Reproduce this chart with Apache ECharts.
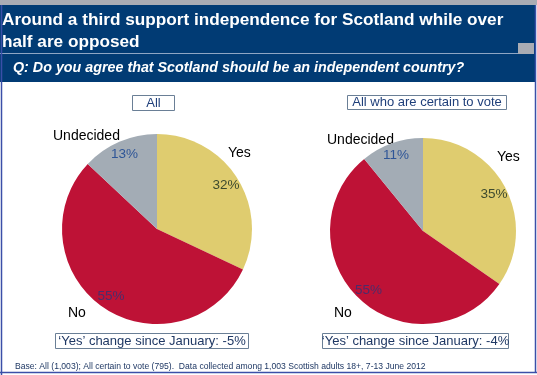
<!DOCTYPE html>
<html><head><meta charset="utf-8">
<script src="https://cdn.jsdelivr.net/npm/echarts@6/dist/echarts.min.js"></script>
<style>html,body{margin:0;padding:0;background:#fff}#c{width:537px;height:375px}</style>
</head><body><div id="c"></div>
<script>
const categories = ['Yes', 'No', 'Undecided'];
const allValues = [32, 55, 13];
const certainValues = [35, 55, 11];
const panelTitles = ['All', 'All who are certain to vote'];
const changeNotes = ["\u2018Yes\u2019 change since January: -5%", "\u2018Yes\u2019 change since January: -4%"];
const title = 'Around a third support independence for Scotland while over\nhalf are opposed';
const question = 'Q: Do you agree that Scotland should be an independent country?';
const footnote = 'Base: All (1,003); All certain to vote (795).  Data collected among 1,003 Scottish adults 18+, 7-13 June 2012';

const sliceColors = ['#dfcc6f', '#be1236', '#a3acb5'];
const pctColors = ['#3d4a2e', '#4b2d6b', '#2e5597'];
const FONT = 'Liberation Sans, Arial, sans-serif';

function mkData(vals) {
  return vals.map((v, i) => ({ name: categories[i], value: v, itemStyle: { color: sliceColors[i] } }));
}
function mkLabelData(vals) {
  return vals.map((v, i) => ({ name: categories[i], value: v,
    label: { color: pctColors[i] } }));
}
const pies = [
  { c: [157, 229], r: 95, vals: allValues },
  { c: [423, 231], r: 93, vals: certainValues }
];
const series = [];
pies.forEach(p => {
  series.push({
    type: 'pie', center: p.c, radius: p.r, startAngle: 90, clockwise: true,
    silent: true, animation: false, label: { show: false }, labelLine: { show: false },
    data: mkData(p.vals)
  });
  series.push({
    type: 'pie', center: p.c, radius: [p.r * 0.66, p.r], startAngle: 90, clockwise: true,
    silent: true, animation: false,
    itemStyle: { color: 'rgba(0,0,0,0)' },
    label: { show: true, position: 'inside', formatter: '{c}%', fontFamily: FONT, fontSize: 13.5 },
    labelLine: { show: false },
    data: mkLabelData(p.vals)
  });
});

const nameTxt = (x, y, t) => ({ type: 'text', left: x, top: y,
  style: { text: t, fill: '#000', font: '14px ' + FONT } });

const graphic = [
  { type: 'rect', shape: { x: 0, y: 0, width: 537, height: 5 }, style: { fill: '#a9acb4' } },
  { type: 'rect', shape: { x: 0, y: 5, width: 535, height: 77 }, style: { fill: '#013b74' } },
  { type: 'line', shape: { x1: 0, y1: 53.5, x2: 518, y2: 53.5 }, style: { stroke: '#8fa6c4', lineWidth: 1 } },
  { type: 'rect', shape: { x: 518, y: 43, width: 16, height: 11 }, style: { fill: '#a9acb4' } },
  { type: 'text', left: 2, top: 9, style: { text: title, fill: '#fff', font: 'bold 17.2px ' + FONT, lineHeight: 22 } },
  { type: 'text', left: 13, top: 61, style: { text: question, fill: '#fff', font: 'italic bold 14.3px ' + FONT } },
  { type: 'line', shape: { x1: 1.5, y1: 5, x2: 1.5, y2: 375 }, style: { stroke: '#3b4fa8', lineWidth: 1.5 } },
  { type: 'line', shape: { x1: 535.5, y1: 5, x2: 535.5, y2: 373 }, style: { stroke: '#3b4fa8', lineWidth: 1.5 } },
  { type: 'line', shape: { x1: 0, y1: 372.5, x2: 537, y2: 372.5 }, style: { stroke: '#3b4fa8', lineWidth: 1.5 } },
  // panel title boxes
  { type: 'rect', shape: { x: 132.5, y: 95.5, width: 42, height: 15 }, style: { fill: '#fff', stroke: '#6a7f96', lineWidth: 1 } },
  { type: 'text', x: 153.5, y: 103, style: { text: panelTitles[0], fill: '#1f3f7a', font: '13px ' + FONT, textAlign: 'center', textVerticalAlign: 'middle' } },
  { type: 'rect', shape: { x: 347.5, y: 95.5, width: 159, height: 14 }, style: { fill: '#fff', stroke: '#6a7f96', lineWidth: 1 } },
  { type: 'text', x: 427, y: 102.5, style: { text: panelTitles[1], fill: '#1f3f7a', font: '13px ' + FONT, textAlign: 'center', textVerticalAlign: 'middle' } },
  // change boxes
  { type: 'rect', shape: { x: 55.5, y: 333.5, width: 193, height: 15 }, style: { fill: '#fff', stroke: '#6a7f96', lineWidth: 1 } },
  { type: 'text', x: 152, y: 341, style: { text: changeNotes[0], fill: '#1f3864', font: '13px ' + FONT, textAlign: 'center', textVerticalAlign: 'middle' } },
  { type: 'rect', shape: { x: 322.5, y: 333.5, width: 186, height: 15 }, style: { fill: '#fff', stroke: '#6a7f96', lineWidth: 1 } },
  { type: 'text', x: 415.5, y: 341, style: { text: changeNotes[1], fill: '#1f3864', font: '13px ' + FONT, textAlign: 'center', textVerticalAlign: 'middle' } },
  { type: 'text', left: 15, top: 362, style: { text: footnote, fill: '#1f3864', font: '8.6px ' + FONT } },
  // slice names
  nameTxt(53, 129, categories[2]),
  nameTxt(228, 146, categories[0]),
  nameTxt(68, 306, categories[1]),
  nameTxt(327, 133, categories[2]),
  nameTxt(497, 150, categories[0]),
  nameTxt(334, 306, categories[1])
];

const chart = echarts.init(document.getElementById('c'));
chart.setOption({ animation: false, series, graphic });
</script></body></html>
